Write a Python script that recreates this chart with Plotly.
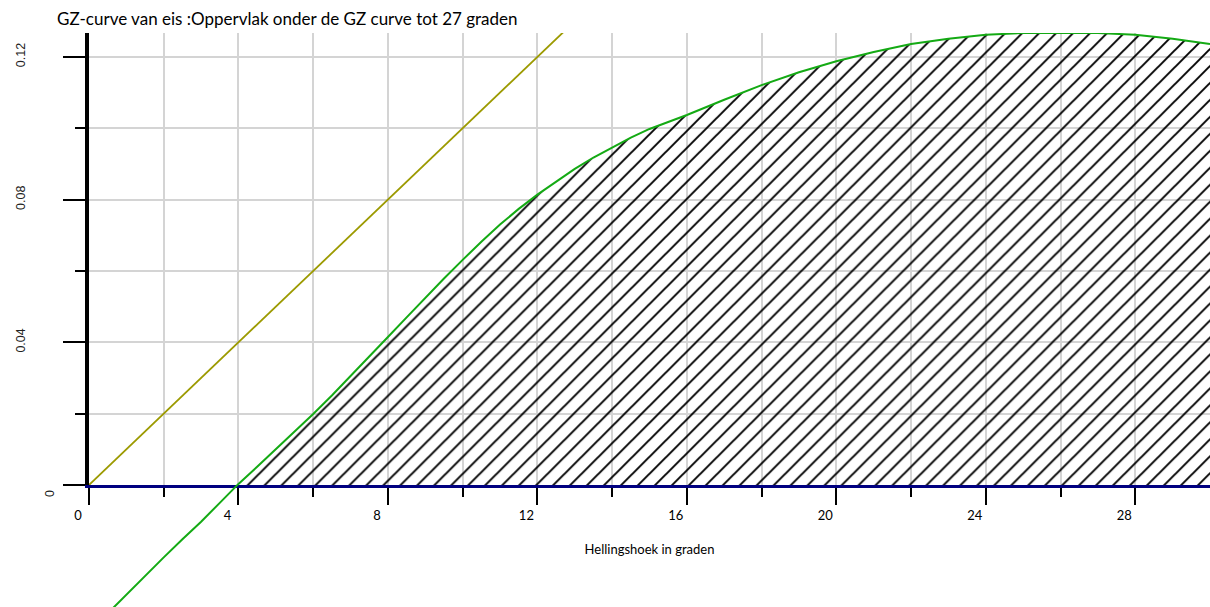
import numpy as np
import plotly.graph_objects as go

# GZ curve (righting lever) against heel angle
heel_deg = [0.5, 1.0, 1.5, 2.0, 2.5, 3.0, 3.5, 4.0, 4.5, 5.0, 5.5, 6.0, 6.5, 7.0,
            7.5, 8.0, 8.5, 9.0, 9.5, 10.0, 10.5, 11.0, 11.5, 12.0, 12.5, 13.0,
            13.5, 14.0, 14.5, 15.0, 15.5, 16.0, 17.0, 18.0, 19.0, 20.0, 21.0,
            22.0, 23.0, 24.0, 25.0, 26.0, 27.0, 28.0, 29.0, 30.0]
gz = [-0.0360, -0.0307, -0.0255, -0.0203, -0.0152, -0.0103, -0.0050, 0.0003,
      0.0051, 0.0100, 0.0149, 0.0199, 0.0251, 0.0305, 0.0360, 0.0415, 0.0470,
      0.0525, 0.0579, 0.0631, 0.0682, 0.0730, 0.0774, 0.0814, 0.0851, 0.0886,
      0.0918, 0.0947, 0.0974, 0.0998, 0.1018, 0.1037, 0.1080, 0.1121, 0.1157,
      0.1188, 0.1214, 0.1236, 0.1251, 0.1262, 0.1267, 0.1268, 0.1267, 0.1262,
      0.1251, 0.1236]

# initial slope line of the GZ requirement
slope_x = [0.0, 13.0]
slope_y = [0.0, 0.13]

x_major_ticks = [0, 4, 8, 12, 16, 20, 24, 28]
x_minor_ticks = [2, 6, 10, 14, 18, 22, 26]
y_major_ticks = [0.0, 0.04, 0.08, 0.12]
y_major_text = ["", "0.04", "0.08", "0.12"]
y_minor_ticks = [0.02, 0.06, 0.10]

TITLE = "GZ-curve van eis :Oppervlak onder de GZ curve tot 27 graden"
X_TITLE = "Hellingshoek in graden"

W, H = 1210, 607
ML, MT = 89, 33
X_MAX = 30.0
Y_TOP, Y_BOTTOM = 0.1267, -0.0342
zero_frac = -Y_BOTTOM / (Y_TOP - Y_BOTTOM)

GRID = "#d4d4d4"
HATCH = "#000000"

# hatched area: positive part of the GZ curve
xa, ya = np.array(heel_deg), np.array(gz)
i0 = int(np.argmax(ya > 0))
x_cross = float(np.interp(0.0, [ya[i0 - 1], ya[i0]], [xa[i0 - 1], xa[i0]]))
area_x = [x_cross] + xa[i0:].tolist()
area_y = [0.0] + ya[i0:].tolist()

fig = go.Figure()

fig.add_trace(go.Scatter(
    x=slope_x, y=slope_y, mode="lines",
    line=dict(color="#9c9a00", width=1.8),
    xaxis="x", yaxis="y", hoverinfo="skip", showlegend=False))

fig.add_trace(go.Scatter(
    x=area_x, y=area_y, mode="none", fill="tozeroy",
    fillcolor="rgba(0,0,0,0)",
    fillpattern=dict(shape="/", size=12, solidity=0.16, fgcolor=HATCH,
                     fgopacity=1, bgcolor="rgba(0,0,0,0)",
                     fillmode="overlay"),
    xaxis="x2", yaxis="y2", hoverinfo="skip", showlegend=False))

fig.add_trace(go.Scatter(
    x=heel_deg, y=gz, mode="lines",
    line=dict(color="#14aa14", width=2),
    xaxis="x2", yaxis="y2", hoverinfo="skip", showlegend=False))

fig.update_layout(
    width=W, height=H,
    margin=dict(l=ML, r=0, t=MT, b=0),
    paper_bgcolor="white", plot_bgcolor="rgba(0,0,0,0)",
    showlegend=False,
    title=dict(text=TITLE, x=57 / W, xanchor="left", y=1 - 19 / H,
               yanchor="middle",
               font=dict(family="Lato", size=17, color="black")),
    xaxis=dict(
        domain=[0, 1], range=[0, X_MAX], anchor="y",
        tickmode="array", tickvals=x_major_ticks,
        ticks="outside", ticklen=17, tickwidth=2, tickcolor="black",
        showline=True, linecolor="#000080", linewidth=3,
        showgrid=True, gridcolor=GRID, gridwidth=2, zeroline=False,
        minor=dict(tickvals=x_minor_ticks, ticks="outside", ticklen=9,
                   tickwidth=2, tickcolor="black",
                   showgrid=True, gridcolor=GRID, gridwidth=2),
        tickfont=dict(family="Lato", size=13, color="black"),
        ticklabelshift=-11, ticklabelstandoff=-1,
        title=dict(text=X_TITLE, standoff=24,
                   font=dict(family="Lato", size=13, color="black")),
    ),
    yaxis=dict(
        domain=[zero_frac, 1], range=[0, Y_TOP], anchor="x",
        tickmode="array", tickvals=y_major_ticks, ticktext=y_major_text,
        tickangle=-90,
        ticks="outside", ticklen=22, tickwidth=2, tickcolor="black",
        showline=True, linecolor="black", linewidth=4,
        showgrid=True, gridcolor=GRID, gridwidth=2, zeroline=False,
        minor=dict(tickvals=y_minor_ticks, ticks="outside", ticklen=10,
                   tickwidth=2, tickcolor="black",
                   showgrid=True, gridcolor=GRID, gridwidth=2),
        tickfont=dict(family="Liberation Sans", size=12.5, color="#222222"),
        ticklabelstandoff=33,
    ),
    xaxis2=dict(domain=[0, 1], range=[0, X_MAX], anchor="y2", visible=False),
    yaxis2=dict(domain=[0, 1], range=[Y_BOTTOM, Y_TOP], anchor="x2",
                visible=False),
    annotations=[dict(text="0", xref="paper", x=(41 - ML) / (W - ML),
                      yref="y", y=0, yshift=-9, textangle=-90,
                      showarrow=False,
                      font=dict(family="Liberation Sans", size=12.5,
                                color="#222222"))],
)

fig.write_html("out.html")
